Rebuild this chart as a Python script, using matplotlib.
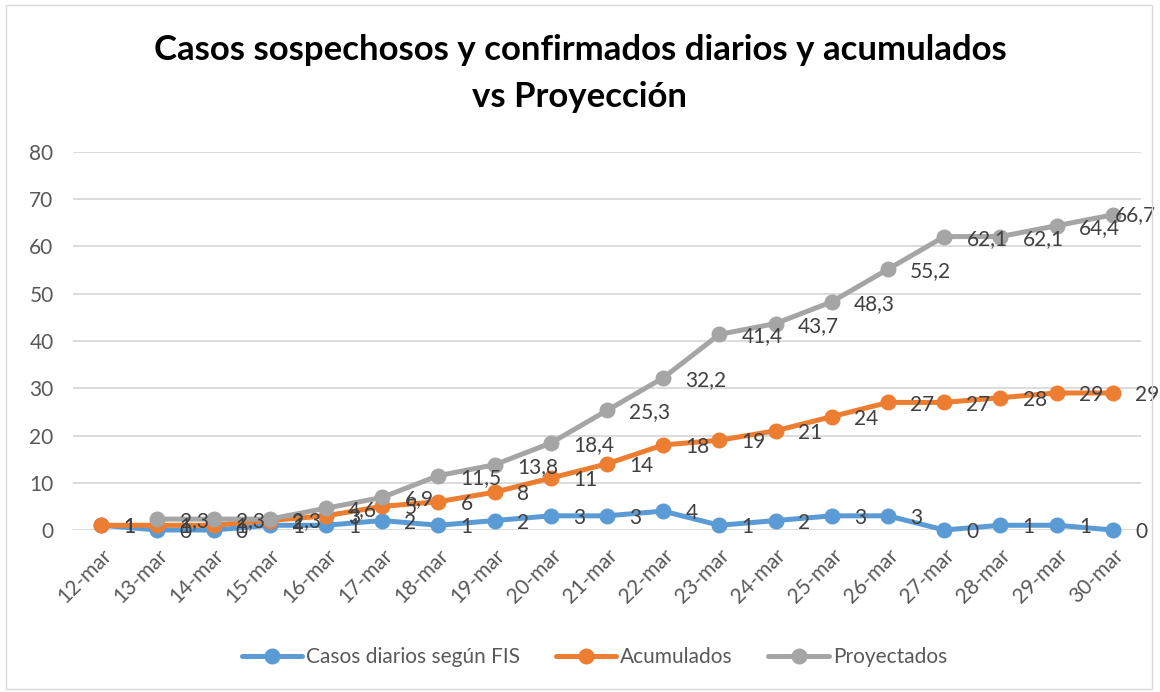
import matplotlib
matplotlib.use("Agg")
import matplotlib.pyplot as plt
from matplotlib.patches import Rectangle

categories = ["12-mar", "13-mar", "14-mar", "15-mar", "16-mar", "17-mar", "18-mar",
              "19-mar", "20-mar", "21-mar", "22-mar", "23-mar", "24-mar", "25-mar",
              "26-mar", "27-mar", "28-mar", "29-mar", "30-mar"]
diarios = [1, 0, 0, 1, 1, 2, 1, 2, 3, 3, 4, 1, 2, 3, 3, 0, 1, 1, 0]
acumulados = [1, 1, 1, 2, 3, 5, 6, 8, 11, 14, 18, 19, 21, 24, 27, 27, 28, 29, 29]
proyectados = [None, 2.3, 2.3, 2.3, 4.6, 6.9, 11.5, 13.8, 18.4, 25.3, 32.2, 41.4,
               43.7, 48.3, 55.2, 62.1, 62.1, 64.4, 66.7]
y_ticks = [0, 10, 20, 30, 40, 50, 60, 70, 80]

plt.rcParams['font.family'] = ['Lato', 'DejaVu Sans']

W, H = 1160, 692
fig = plt.figure(figsize=(W / 100, H / 100), dpi=100)
fig.patches.append(Rectangle((6 / W, 3 / H), 1 - 14 / W, 1 - 8 / H, transform=fig.transFigure,
                             fill=False, edgecolor="#D9D9D9", linewidth=1))

ax = fig.add_axes([73 / W, (H - 530) / H, (1141 - 73) / W, (530 - 152) / H])

series = [
    ("Casos diarios según FIS", diarios, "#5B9BD5"),
    ("Acumulados", acumulados, "#ED7D31"),
    ("Proyectados", proyectados, "#A5A5A5"),
]

x_all = list(range(len(categories)))
for name, vals, col in series:
    xs = [i for i, v in zip(x_all, vals) if v is not None]
    ys = [v for v in vals if v is not None]
    ax.plot(xs, ys, color=col, linewidth=3.6, marker="o", markersize=10.5,
            markeredgecolor=col, label=name, zorder=3, solid_capstyle="round",
            clip_on=False)

def fmt(v):
    if float(v).is_integer():
        return str(int(v))
    return ("%.1f" % v).replace(".", ",")

for name, vals, col in series:
    for i, v in zip(x_all, vals):
        if v is None:
            continue
        last = (i == len(vals) - 1) and len(fmt(v)) > 2
        if last:
            # Excel pulls a label that would leave the chart back inside it
            ax.annotate(fmt(v), (1156, v), xycoords=("figure pixels", "data"),
                        ha="right", va="center", fontsize=15, color="#404040",
                        zorder=5, annotation_clip=False)
        else:
            ax.annotate(fmt(v), (i, v), xytext=(16, -1.5), textcoords="offset points",
                        ha="left", va="center", fontsize=15, color="#404040", zorder=5,
                        annotation_clip=False)

ax.set_xlim(-0.5, len(categories) - 0.5)
ax.set_ylim(0, 80)
ax.set_yticks(y_ticks)
ax.set_yticklabels([str(t) for t in y_ticks])
ax.set_xticks(x_all)
ax.set_xticklabels(categories, rotation=45, ha="right", va="top", rotation_mode="anchor")
ax.tick_params(axis="both", length=0, labelsize=15, colors="#595959")
ax.tick_params(axis="y", pad=14)
ax.tick_params(axis="x", pad=11)
ax.grid(axis="y", color="#D9D9D9", linewidth=1.3, zorder=0)
ax.set_axisbelow(True)
for s in ax.spines.values():
    s.set_visible(False)

fig.text(0.5, 1 - 50 / H, "Casos sospechosos y confirmados diarios y acumulados",
         ha="center", va="center", fontsize=25, fontweight="bold", color="#000000")
fig.text(0.5, 1 - 97 / H, "vs Proyección",
         ha="center", va="center", fontsize=25, fontweight="bold", color="#000000")

fig.legend(loc="center", bbox_to_anchor=(0.5125, 1 - 657 / H), ncol=3, frameon=False,
           fontsize=15, handlelength=2.9, columnspacing=1.7, handletextpad=0.2,
           labelcolor="#595959")

fig.savefig("out.png", dpi=100)
